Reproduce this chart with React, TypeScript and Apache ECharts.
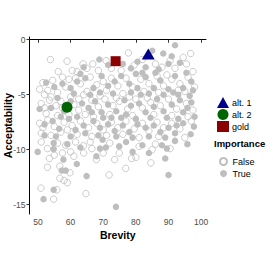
import React, { useEffect, useRef } from "react";
import * as echarts from "echarts";

const xTicks = [50, 60, 70, 80, 90, 100];
const yTicks = [0, -5, -10, -15];

const importanceFalse: number[][] = [
  [53.8,-1.8],[58.9,-1.95],[63.8,-2.2],[66.8,-2.2],[70.9,-1.9],[77.7,-1.2],[94.5,-1.6],[96.8,-1.25],[72.5,-2.6],[60.5,-2.8],[56.2,-2.9],[62,-2.9],[79.5,-2.3],[86,-2.2],[90.5,-1.9],[82,-1.8],[92,-2.6],[97.5,-2.9],[75.5,-2.8],[68.5,-2.8],
  [51.5,-3.9],[54.5,-3.7],[57.5,-3.4],[59.5,-3.6],[61.5,-3.5],[63,-4.0],[66,-3.4],[68,-4.1],[70,-3.8],[72.5,-3.5],[74.5,-4.2],[77,-3.5],[79,-4.3],[81.5,-3.6],[84,-4.0],[86.5,-3.3],[88.5,-4.2],[91,-3.6],[93.5,-4.0],[96,-3.4],[53,-4.6],[56,-4.8],[58.5,-4.3],[65,-4.7],[71,-4.6],[76,-4.9],[82.5,-4.7],[87,-4.8],[95,-4.7],[98,-4.3],[52,-5.0],[60,-5.2],[64,-5.0],[89.5,-3.2],
  [51,-5.8],[53.5,-5.5],[55.5,-6.0],[57,-5.6],[61,-5.9],[62.5,-6.4],[66.5,-5.5],[68.5,-6.1],[70.5,-5.4],[73,-6.0],[75,-5.6],[77.5,-6.3],[80,-5.4],[82,-6.2],[84.5,-5.7],[87.5,-6.0],[90,-5.4],[92.5,-6.3],[95.5,-5.8],[97.5,-6.4],[52.5,-6.7],[56,-6.9],[59.5,-6.8],[64.5,-6.8],[67,-7.0],[72,-6.8],[79,-6.9],[85.5,-6.8],[91,-6.9],[96,-7.0],
  [50.5,-7.6],[53,-7.3],[55,-7.9],[58,-7.5],[60.5,-7.8],[63,-7.4],[65.5,-8.0],[68,-7.6],[70,-8.2],[72.5,-7.5],[74.5,-8.0],[77,-7.4],[79.5,-8.1],[82,-7.6],[84,-8.3],[86.5,-7.5],[88.5,-8.0],[91,-7.6],[93.5,-8.1],[97,-7.4],[51,-8.5],[54,-8.7],[57,-8.4],[62,-8.6],[66.5,-8.8],[71,-8.7],[76,-8.6],[81,-8.9],[87,-8.8],[95,-8.9],[51.5,-8.0],
  [52.9,-9.9],[56,-9.4],[58.5,-9.6],[60,-10.2],[63.9,-9.65],[66,-9.3],[74.9,-10.3],[67.9,-10.9],[78.7,-10.8],[80,-10.7],[84.6,-11.2],[55,-10.5],[61,-10.6],[72,-9.4],[86,-9.5],[51,-9.3],
  [52.9,-11.6],[56.7,-11.5],[56.7,-12.6],[59,-13.0],[59.8,-12.1],[64.7,-14.0],[71.8,-12.3],[76.9,-11.7],[50.9,-13.5],[55.8,-13.65],[54.8,-14.5],[58.0,-12.8],
  [50.5,-4.5],[52,-6.2],[54,-5.2],[57.5,-6.2],[59,-8.2],[61.5,-9.3],[64,-10.3],[53.5,-10.8],[57.5,-10.3],[66.5,-9.9],[70,-10.3],[73.5,-10.9],[62.5,-5.4],[69,-5.1],[74,-5.3],[78,-5.2],[83.5,-5.3],[93,-4.6],[65,-2.6],[88,-2.5],[95.5,-2.2],[81,-9.7],[85,-10.0],[90.5,-9.9]
];

const importanceTrue: number[][] = [
  [92,-0.5],[88.4,-1.25],[68.8,-1.8],[64,-2.5],[85,-1.0],[80.5,-2.0],[87,-2.7],[90,-2.2],[93.5,-2.1],[83,-2.5],[76,-2.2],[71.5,-2.3],
  [52.5,-3.9],[55,-4.3],[57.5,-4.0],[60,-4.4],[62,-3.8],[64.5,-3.5],[67,-4.4],[69.5,-3.3],[71.5,-4.2],[73.5,-3.8],[75.5,-3.3],[78,-4.0],[80.5,-4.4],[83,-3.4],[85.5,-4.4],[87.5,-3.7],[90,-4.5],[92,-3.3],[94.5,-4.4],[97,-3.8],[61,-4.9],[66,-5.0],[69,-4.8],[73,-4.9],[78.5,-4.8],[81.5,-5.0],[84,-4.9],[88.5,-5.0],[91.5,-4.8],[96.5,-5.1],[63,-3.1],[86,-3.0],[80,-3.1],
  [50.5,-6.3],[54,-6.2],[58,-6.5],[60,-5.6],[63.5,-5.8],[65.5,-6.2],[67.5,-5.6],[69.5,-6.6],[71.5,-5.9],[74,-6.5],[76.5,-5.5],[78.5,-6.0],[81,-5.8],[83,-6.6],[85.5,-6.1],[86.5,-5.4],[88.5,-6.5],[91,-5.9],[93.5,-5.5],[94.5,-6.6],[97,-5.7],[57,-7.0],[62,-7.0],[70,-7.1],[75.5,-7.1],[80,-7.2],[84.5,-7.1],[89.5,-7.1],[93,-7.2],
  [52,-7.7],[54.5,-7.4],[56.5,-8.1],[59.5,-7.2],[61.5,-8.2],[64,-7.8],[67,-7.4],[69,-8.0],[71.5,-7.7],[73.5,-8.3],[76,-7.8],[78,-8.4],[80.5,-7.7],[83,-8.0],[85.5,-7.8],[87.5,-8.4],[90,-8.0],[92,-8.5],[94.5,-7.6],[97.8,-7.9],[96.8,-8.6],[55.5,-8.8],[60,-8.8],[64.5,-8.5],[68.5,-8.7],[74,-8.8],[79,-8.9],[84,-8.8],[89,-8.9],[54.8,-9.4],[54.8,-9.95],
  [49.9,-10.2],[57.8,-10.9],[61.9,-11.3],[67.9,-10.6],[74.9,-9.7],[69,-9.9],[70.8,-9.8],[69.8,-9.1],[92,-9.2],[89,-10.8],[77,-9.3],[82,-9.6],[57.3,-11.9],[58.5,-11.9],[63,-9.8],[88,-9.6],
  [64.9,-12.4],[90,-12.3],[73.9,-15.2],[54.8,-13.65],[51.7,-14.5],
  [95.5,-3.0],[97.5,-4.6],[93,-5.0],[95.8,-6.2],[98,-7.0],[92.5,-7.8],[95.8,-9.5],[89.5,-9.9],[84,-10.3],[79,-10.2],[82,-3.0],[78.5,-2.6],[91,-1.5],[59,-9.5],[52,-8.7],[56,-5.3],[66.5,-6.6],[72.5,-7.1],[77,-6.8]
];

const alt1: number[][] = [[83.8, -1.3]];
const alt2: number[][] = [[58.9, -6.15]];
const gold: number[][] = [[73.8, -1.95]];

const GREY = "#BEBEBE";
const FONT = "Liberation Sans, Arial, Helvetica, sans-serif";

export default function App() {
  const ref = useRef<HTMLDivElement>(null);
  useEffect(() => {
    if (!ref.current) return;
    const chart = echarts.init(ref.current, null, { renderer: "svg" });
    chart.setOption({
      animation: false,
      backgroundColor: "#ffffff",
      textStyle: { fontFamily: FONT },
      grid: { left: 29.5, right: 67, top: 37, bottom: 59, containLabel: false, outerBoundsMode: "none" },
      xAxis: {
        type: "value",
        min: 47.4,
        max: 101.5,
        name: "Brevity",
        nameLocation: "middle",
        nameGap: 15,
        nameMoveOverlap: false,
        nameTextStyle: { fontFamily: FONT, fontWeight: "bold", fontSize: 10.5, color: "#000" },
        axisLine: { lineStyle: { color: "#000", width: 1 } },
        axisTick: { show: true, length: 3, customValues: xTicks, lineStyle: { color: "#333" } },
        axisLabel: { customValues: xTicks, fontSize: 8.5, color: "#4D4D4D", margin: 3, fontFamily: FONT },
        splitLine: { show: false },
      },
      yAxis: {
        type: "value",
        min: -15.85,
        max: 0.25,
        name: "Acceptability",
        nameLocation: "middle",
        nameGap: 16,
        nameRotate: 90,
        nameMoveOverlap: false,
        nameTextStyle: { fontFamily: FONT, fontWeight: "bold", fontSize: 10.5, color: "#000" },
        axisLine: { show: true, lineStyle: { color: "#000", width: 1 } },
        axisTick: { show: true, length: 3, customValues: yTicks, lineStyle: { color: "#333" } },
        axisLabel: { customValues: yTicks, fontSize: 8.5, color: "#4D4D4D", margin: 4, fontFamily: FONT },
        splitLine: { show: false },
      },
      legend: [
        {
          orient: "vertical",
          left: 212,
          top: 92,
          itemWidth: 12,
          itemHeight: 11,
          itemGap: 1,
          textStyle: { fontSize: 9, color: "#000", fontFamily: FONT, padding: [0, 0, 0, -2] },
          data: [
            { name: "alt. 1", icon: "triangle" },
            { name: "alt. 2", icon: "circle" },
            { name: "gold", icon: "rect" },
          ],
          selectedMode: false,
        },
        {
          orient: "vertical",
          left: 214,
          top: 152,
          itemWidth: 8,
          itemHeight: 7,
          itemGap: 3,
          textStyle: { fontSize: 9, color: "#000", fontFamily: FONT, padding: [0, 0, 0, 0] },
          data: [
            { name: "False", icon: "circle" },
            { name: "True", icon: "circle" },
          ],
          selectedMode: false,
        },
      ],
      graphic: [
        {
          type: "text",
          left: 214,
          top: 138,
          style: { text: "Importance", font: `bold 9.5px ${FONT}`, fill: "#000" },
        },
      ],
      series: [
        {
          name: "False",
          type: "scatter",
          data: importanceFalse,
          symbol: "circle",
          symbolSize: 6.5,
          itemStyle: { color: "rgba(255,255,255,0)", borderColor: GREY, borderWidth: 0.8, opacity: 1 },
        },
        {
          name: "True",
          type: "scatter",
          data: importanceTrue,
          symbol: "circle",
          symbolSize: 6.5,
          itemStyle: { color: GREY, opacity: 1 },
        },
        {
          name: "alt. 1",
          type: "scatter",
          data: alt1,
          symbol: "triangle",
          symbolSize: [13, 11],
          itemStyle: { color: "#00008B", opacity: 1 },
          z: 5,
        },
        {
          name: "alt. 2",
          type: "scatter",
          data: alt2,
          symbol: "circle",
          symbolSize: 11,
          itemStyle: { color: "#006400", opacity: 1 },
          z: 5,
        },
        {
          name: "gold",
          type: "scatter",
          data: gold,
          symbol: "rect",
          symbolSize: 10,
          itemStyle: { color: "#8B0000", opacity: 1 },
          z: 5,
        },
      ],
    });
    return () => chart.dispose();
  }, []);
  return (
    <div
      ref={ref}
      style={{ width: 273, height: 273, position: "absolute", left: 0, top: 0 }}
    />
  );
}
